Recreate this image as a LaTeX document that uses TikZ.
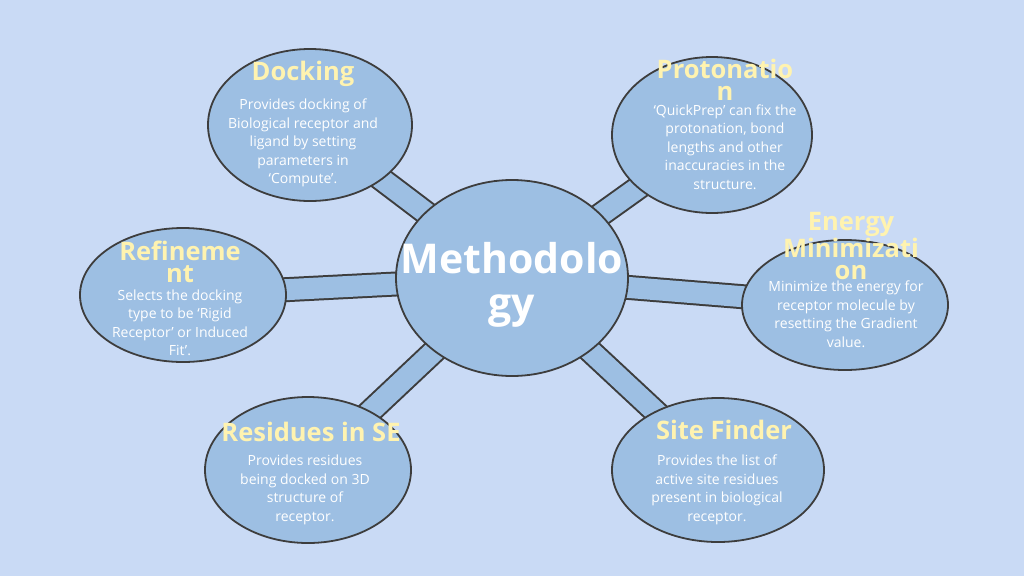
\documentclass[tikz,border=0pt]{standalone}
\usetikzlibrary{shapes.geometric}
\usepackage{fontspec}
\setmainfont{Open Sans}
\definecolor{bg}{HTML}{C9DAF5}
\definecolor{blob}{HTML}{9DBFE3}
\definecolor{edge}{HTML}{3D3D3D}
\definecolor{ttl}{HTML}{FFF3B0}
\begin{document}
\begin{tikzpicture}[x=1pt,y=-1pt,
  blob/.style={ellipse,draw=edge,fill=blob,line width=1.8pt,minimum width=2*#1},
  band/.style={draw=edge,line width=25pt},
  bandin/.style={draw=blob,line width=21pt},
  ttl/.style={text=ttl,font=\fontsize{25.5}{22}\selectfont\bfseries,align=center},
  body/.style={text=white,font=\fontsize{14}{18.5}\selectfont,align=center}]
\useasboundingbox[fill=bg] (0,0) rectangle (1024,576);
\coordinate (c) at (512,278);
\coordinate (d) at (310,125);
\coordinate (p) at (712,135);
\coordinate (r) at (183,295);
\coordinate (e) at (845,305);
\coordinate (s) at (308,470);
\coordinate (f) at (718,470);
\foreach \t in {d,p,r,e,s,f}{\draw[band] (c)--(\t);}
\foreach \t in {d,p,r,e,s,f}{\draw[bandin] (c)--(\t);}
\node[blob=116pt,minimum height=196pt] (C) at (c) {};
\node[blob=102pt,minimum height=152pt] (D) at (d) {};
\node[blob=100pt,minimum height=156pt] (P) at (p) {};
\node[blob=103pt,minimum height=134pt] (R) at (r) {};
\node[blob=103pt,minimum height=130pt] (E) at (e) {};
\node[blob=103pt,minimum height=146pt] (S) at (s) {};
\node[blob=106pt,minimum height=144pt] (F) at (f) {};
\node[text=white,font=\fontsize{41}{44}\selectfont\bfseries,align=center] (ct) at (512,285) {Methodolo\\gy};
\node[ttl] (dt) at (303,74) {Docking};
\node[body] (db) at (303,143) {Provides docking of\\Biological receptor and\\ligand by setting\\parameters in\\‘Compute’.};
\node[ttl] (pt) at (725,80) {Protonatio\\n};
\node[body] (pb) at (725,147) {‘QuickPrep’ can fix the\\protonation, bond\\lengths and other\\inaccuracies in the\\structure.};
\node[ttl] (rt) at (180,262) {Refineme\\nt};
\node[body] (rb) at (180,323) {Selects the docking\\type to be ‘Rigid\\Receptor’ or Induced\\Fit’.};
\node[ttl] (et) at (851,246) {Energy\\Minimizati\\on};
\node[body] (eb) at (846,314) {Minimize the energy for\\receptor molecule by\\resetting the Gradient\\value.};
\node[ttl] (st) at (311,432) {Residues in SE};
\node[body] (sb) at (305,490) {Provides residues\\being docked on 3D\\structure of\\receptor.};
\node[ttl] (ft) at (724,430) {Site Finder};
\node[body] (fb) at (717,490) {Provides the list of\\active site residues\\present in biological\\receptor.};
\end{tikzpicture}
\end{document}
